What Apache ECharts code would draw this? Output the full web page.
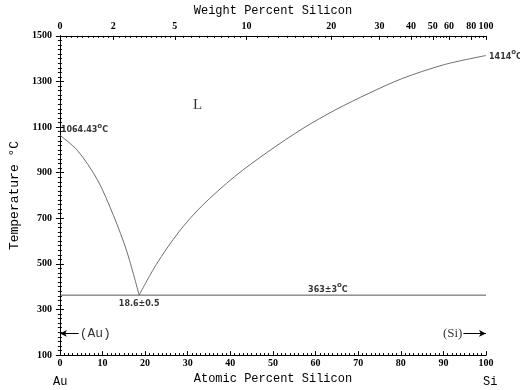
<!DOCTYPE html>
<html>
<head>
<meta charset="utf-8">
<script src="https://cdn.jsdelivr.net/npm/echarts@6/dist/echarts.min.js"></script>
<style>
  html, body { margin: 0; padding: 0; background: #fff; }
  #chart { width: 520px; height: 390px; }
</style>
</head>
<body>
<div id="chart"></div>
<script>
// liquidus Au side (atomic % Si, temperature)
var auLiqAt = [0, 4.1, 8.8, 12.6, 15.7, 18.6];
var auLiqT = [1064.43, 998, 869, 711, 555, 363];
// liquidus Si side
var siLiqAt = [18.6, 22.6, 27.9, 33.3, 41, 48.7, 57.1, 64.8, 72.5, 80.2, 90.2, 100];
var siLiqT = [363, 497, 640, 754, 883, 990, 1095, 1177, 1248, 1312, 1374, 1414];
// eutectic horizontal
var eutAt = [0, 100];
var eutT = [363, 363];
// top axis, weight percent tick labels
var wtMajor = [0, 2, 5, 10, 20, 30, 40, 50, 60, 80, 100];
// minor ticks on top axis: [from, to, step] in wt%
var wtMinorSteps = [[0, 2, 0.2], [2, 5, 0.25], [5, 10, 0.5], [10, 20, 1], [20, 60, 2], [60, 100, 5]];

function wtToAt(w) {
  var a = w / 28.0855, b = (100 - w) / 196.96657;
  return a / (a + b) * 100;
}
var topMajorPos = wtMajor.map(wtToAt);
var topMinorPos = [];
wtMinorSteps.forEach(function (s) {
  for (var w = s[0]; w < s[1] - 1e-9; w += s[2]) topMinorPos.push(wtToAt(w));
});

function pairs(xs, ys) { return xs.map(function (x, i) { return [x, ys[i]]; }); }

var chart = echarts.init(document.getElementById('chart'));
var tickFont = { fontFamily: 'Liberation Serif', fontWeight: 'bold', fontSize: 10, color: '#000' };
var nameFont = { fontFamily: 'Liberation Mono', fontSize: 12, color: '#000' };
var sup = { fontFamily: 'DejaVu Sans', fontWeight: 'bold', fontSize: 7, color: '#000', verticalAlign: 'bottom', padding: [0, 0, 5, 0] };
var small = { fontFamily: 'DejaVu Sans', fontWeight: 'bold', fontSize: 8, color: '#000', verticalAlign: 'bottom' };

chart.setOption({
  animation: false,
  grid: { left: 52, right: 34, top: 33, bottom: 31 },
  xAxis: [
    {
      type: 'value', position: 'bottom', min: 0, max: 100, interval: 10,
      name: 'Atomic Percent Silicon', nameLocation: 'middle', nameGap: 17, nameTextStyle: nameFont,
      axisLine: { lineStyle: { color: '#000', width: 1 } },
      axisTick: { inside: true, length: 4, lineStyle: { color: '#000' } },
      minorTick: { show: true, splitNumber: 10, length: 2, lineStyle: { color: '#000' } },
      axisLabel: Object.assign({ margin: 3 }, tickFont),
      splitLine: { show: false }
    },
    {
      type: 'value', position: 'top', min: 0, max: 100,
      name: 'Weight Percent Silicon', nameLocation: 'middle', nameGap: 17, nameTextStyle: nameFont,
      axisLine: { lineStyle: { color: '#000', width: 1 } },
      axisTick: { inside: true, length: 4, customValues: topMajorPos, lineStyle: { color: '#000' } },
      axisLabel: Object.assign({
        margin: 4, customValues: topMajorPos,
        formatter: function (v) {
          var i = topMajorPos.indexOf(v);
          return i >= 0 ? String(wtMajor[i]) : '';
        }
      }, tickFont),
      splitLine: { show: false }
    },
    {
      type: 'value', position: 'top', min: 0, max: 100,
      axisLine: { show: false },
      axisTick: { inside: true, length: 2, customValues: topMinorPos, lineStyle: { color: '#000' } },
      axisLabel: { show: false },
      splitLine: { show: false }
    }
  ],
  yAxis: [
    {
      type: 'value', position: 'left', min: 100, max: 1500, interval: 200,
      name: 'Temperature °C', nameLocation: 'middle', nameGap: 38, nameTextStyle: Object.assign({}, nameFont, { fontSize: 13 }),
      axisLine: { lineStyle: { color: '#000', width: 1 } },
      axisTick: { inside: false, length: 4, lineStyle: { color: '#000' } },
      minorTick: { show: true, splitNumber: 10, length: 2, lineStyle: { color: '#000' } },
      axisLabel: Object.assign({ margin: 8, formatter: function (v) { return String(v); } }, tickFont),
      splitLine: { show: false }
    },
    {
      type: 'value', position: 'right', min: 100, max: 1500, interval: 200,
      axisLine: { lineStyle: { color: '#000', width: 1 } },
      axisTick: { inside: false, length: 4, lineStyle: { color: '#000' } },
      minorTick: { show: true, splitNumber: 10, length: 2, lineStyle: { color: '#000' } },
      axisLabel: { show: false },
      splitLine: { show: false }
    }
  ],
  series: [
    {
      type: 'line', data: pairs(auLiqAt, auLiqT), smooth: 0.3, showSymbol: false,
      lineStyle: { color: '#6e6e6e', width: 1 }
    },
    {
      type: 'line', data: pairs(siLiqAt, siLiqT), smooth: 0.3, showSymbol: false,
      lineStyle: { color: '#6e6e6e', width: 1 }
    },
    {
      type: 'line', data: pairs(eutAt, eutT), showSymbol: false,
      lineStyle: { color: '#555', width: 1 },
      markLine: {
        silent: true, symbol: ['none', 'arrow'], symbolSize: [5, 7],
        lineStyle: { color: '#000', width: 1, type: 'solid' },
        label: { show: false },
        data: [
          [{ coord: [4.4, 195] }, { coord: [0, 195] }],
          [{ coord: [94.7, 195] }, { coord: [100, 195] }]
        ]
      }
    },
    {
      type: 'scatter', symbolSize: 0, silent: true,
      data: [
        { value: [0, 1064.43], label: { position: 'right', distance: 1, offset: [0, -7], formatter: '{s|1064.43}{sup|o}{s|C}', rich: { s: small, sup: sup } } },
        { value: [100, 1414], label: { position: 'right', distance: 3, offset: [0, -1], formatter: '{s|1414}{sup|o}{s|C}', rich: { s: small, sup: sup } } },
        { value: [18.6, 363], label: { position: 'bottom', distance: 5, formatter: '{s|18.6±0.5}', rich: { s: small } } },
        { value: [62.9, 363], label: { position: 'top', distance: 1, formatter: '{s|363±3}{sup|o}{s|C}', rich: { s: small, sup: sup } } },
        { value: [32.3, 1195], label: { position: 'inside', formatter: 'L', fontFamily: 'Liberation Serif', fontSize: 15, color: '#000' } },
        { value: [4.4, 195], label: { position: 'right', distance: 1, formatter: '(Au)', fontFamily: 'Liberation Mono', fontSize: 13, color: '#000' } },
        { value: [94.7, 195], label: { position: 'left', distance: 1, formatter: '(Si)', fontFamily: 'Liberation Serif', fontSize: 13, color: '#000' } }
      ],
      label: { show: true }
    }
  ],
  graphic: [
    { type: 'text', left: 53, top: 376, style: { text: 'Au', font: '12px "Liberation Mono"', fill: '#000' } },
    { type: 'text', left: 483, top: 376, style: { text: 'Si', font: '12px "Liberation Mono"', fill: '#000' } }
  ]
});
</script>
</body>
</html>
